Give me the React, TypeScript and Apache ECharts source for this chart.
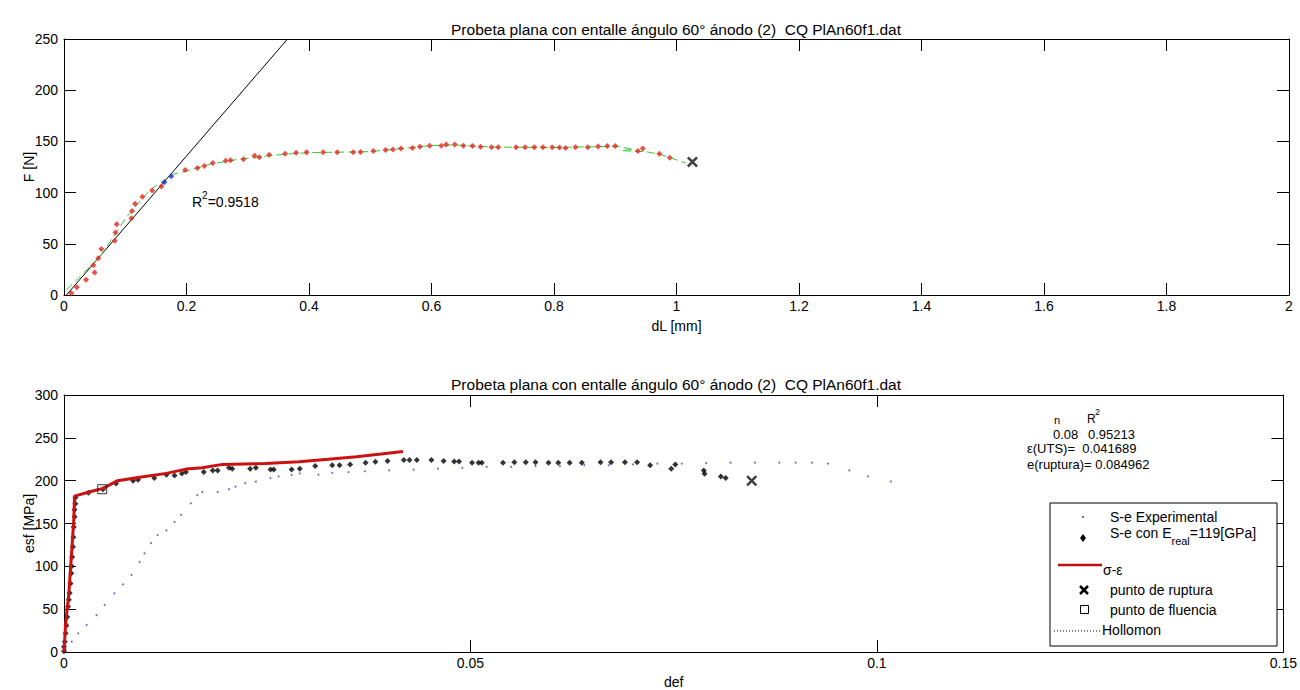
import React, { useEffect, useRef } from 'react';
import * as echarts from 'echarts';

// ---------- texts ----------
const plotTitle = 'Probeta plana con entalle ángulo 60° ánodo (2)  CQ PlAn60f1.dat';
const topXName = 'dL [mm]';
const topYName = 'F [N]';
const botXName = 'def';
const botYName = 'esf [MPa]';
const legendLabels = ['S-e Experimental', 'S-e con E', 'σ-ε', 'punto de ruptura', 'punto de fluencia', 'Hollomon'];

// ---------- top plot data: dL [mm] vs F [N] ----------
const topRedDL = [0.012, 0.021, 0.036, 0.048, 0.050, 0.056, 0.061, 0.083, 0.084, 0.086, 0.110, 0.111, 0.116, 0.128, 0.144, 0.159,
  0.198, 0.218, 0.229, 0.243, 0.264, 0.272, 0.293, 0.311, 0.319, 0.335, 0.361, 0.379, 0.396, 0.423, 0.446, 0.472, 0.484,
  0.505, 0.525, 0.537, 0.550, 0.569, 0.581, 0.597, 0.616, 0.624, 0.638, 0.652, 0.667, 0.680, 0.698, 0.709, 0.738, 0.753,
  0.768, 0.782, 0.797, 0.809, 0.819, 0.835, 0.855, 0.872, 0.887, 0.900, 0.937, 0.945, 0.972, 0.989];
const topRedF = [1.6, 7.5, 15, 29, 22, 36, 45, 53, 61, 69, 75, 82, 89, 96, 102, 106,
  122, 124, 126, 129, 131, 131.5, 132.5, 136, 134.5, 137, 138, 139, 139.3, 139.3, 139.3, 139.3, 139.6,
  140.6, 141.6, 142, 143, 143.5, 144.8, 145.8, 145.8, 147, 147, 145.8, 145.5, 144.8, 144.3, 144.3, 144.3, 144.3,
  144.3, 144.3, 144.3, 144, 143.5, 144.3, 144.3, 145, 145.5, 145.5, 140.6, 143, 138, 134];
const topBlueDL = [0.164, 0.175];
const topBlueF = [110, 116];
const topGreenDL = [0.004, 0.059, 0.102, 0.140, 0.178, 0.2, 0.24, 0.28, 0.32, 0.36, 0.4, 0.45, 0.5, 0.55, 0.6, 0.64,
  0.7, 0.8, 0.88, 0.905, 0.93, 0.91, 0.95, 0.975, 1.0, 1.015];
const topGreenF = [5, 37.5, 76, 102.5, 118, 121, 128, 132, 135, 137.5, 139, 139.5, 140, 143, 146, 146.5,
  144.5, 144, 145, 145, 142, 141, 140, 137, 132, 129];
const topFitDL = [0.004, 0.365];
const topFitF = [0, 250];
const topRupture = [1.026, 130];
const topR2 = '0.9518';

// ---------- bottom plot data: def vs esf [MPa] ----------
const expDef = [0.0002, 0.00094, 0.00175, 0.00277, 0.0040, 0.0050, 0.0062, 0.00725, 0.0083, 0.0093, 0.0099, 0.0107,
  0.0115, 0.0126, 0.0136, 0.0144, 0.0156, 0.0164, 0.0170, 0.0189, 0.0203, 0.0211, 0.0223, 0.0236, 0.0254, 0.0264,
  0.028, 0.029, 0.0313, 0.033, 0.035, 0.037, 0.040, 0.043, 0.046, 0.049, 0.052, 0.055, 0.058, 0.061, 0.064, 0.067,
  0.070, 0.073, 0.076, 0.079, 0.082, 0.085, 0.088, 0.090, 0.092, 0.094, 0.0966, 0.0989, 0.1017];
const expEsf = [3, 12, 21.8, 31.5, 43, 55, 68.5, 79, 90, 105, 115, 127,
  136.5, 142, 152, 160, 173.5, 183, 187, 187, 190, 193, 197, 199, 203, 205,
  206.5, 208.5, 207, 209, 210, 211, 212, 213, 214, 215, 216, 216, 217, 217, 218, 218,
  219, 220, 220, 220.5, 221, 221, 221, 221, 221, 220, 212, 205, 199];

const realDef = [0, 0, 0.0001, 0.0002, 0.0003, 0.0004, 0.0005, 0.0006, 0.0007, 0.0008, 0.0009, 0.00095, 0.001, 0.0011,
  0.00115, 0.0012, 0.0013, 0.0013, 0.0014, 0.0014,
  0.003, 0.0048, 0.0064, 0.0085, 0.0091, 0.0111, 0.0126, 0.0136, 0.0145, 0.015, 0.0172, 0.0183, 0.0189, 0.0203, 0.0207,
  0.0229, 0.0236, 0.0254, 0.0258, 0.028, 0.029, 0.0309, 0.033, 0.0339, 0.0352, 0.0371, 0.0383, 0.0398, 0.0418, 0.0425,
  0.0434, 0.0452, 0.0467, 0.048, 0.0486, 0.0502, 0.051, 0.0514, 0.054, 0.0554, 0.0568, 0.058, 0.0596, 0.0608, 0.0622,
  0.0637, 0.066, 0.0673, 0.069, 0.0705, 0.0721, 0.0747, 0.0752, 0.0787, 0.0788, 0.0808, 0.0814];
const realEsf = [1, 6, 12, 22, 31, 41, 53, 61, 69, 80, 92, 100, 111, 123,
  134, 146, 158, 166, 173, 180,
  186, 190, 196.6, 200, 201, 203, 207, 206, 208.5, 210, 210, 212, 212, 215, 214,
  214, 215, 213, 213, 213, 214, 217, 218, 218, 219, 221, 222, 223, 224, 224,
  224, 224, 223, 222.5, 222.5, 221, 221, 221, 221, 221.5, 221.5, 221.5, 221, 221, 221,
  221, 221.5, 221.5, 221.5, 221.5, 218, 214, 219, 212, 208, 205, 203];

const sigmaDef = [0, 0.0002, 0.0006, 0.0009, 0.0012, 0.0013, 0.0032, 0.0048, 0.0066, 0.0093, 0.0126, 0.015, 0.017,
  0.0195, 0.0248, 0.0289, 0.0325, 0.036, 0.039, 0.0417];
const sigmaEsf = [0, 33, 69, 111, 154, 182, 187, 191, 200, 204, 208.5, 213.5, 215,
  219, 220, 222, 225, 228, 231, 234];

const rupturePoint = [0.0846, 200];
const yieldPoint = [0.0047, 190];
const nValue = '0.08';
const r2Value = '0.95213';
const epsUTS = '0.041689';
const epsRupt = '0.084962';
const eReal = '119';

const zip = (a: number[], b: number[]) => a.map((v, i) => [v, b[i]]);

const FONT = '"Liberation Sans", Arial, sans-serif';
const XMARK = 'path://M0,1.6L1.6,0L5,3.4L8.4,0L10,1.6L6.6,5L10,8.4L8.4,10L5,6.6L1.6,10L0,8.4L3.4,5Z';

function valueAxis(gridIndex: number, position: string, min: number, max: number, interval: number, labels: boolean, extra: any = {}) {
  return {
    type: 'value', gridIndex, position, min, max, interval,
    nameMoveOverlap: false,
    axisLine: { show: true, onZero: false, lineStyle: { color: '#000', width: 1 } },
    axisTick: { show: true, inside: true, length: 12, lineStyle: { color: '#000', width: 1 } },
    splitLine: { show: false },
    axisLabel: labels ? { show: true, color: '#000', fontSize: 14, fontFamily: FONT, margin: position === 'left' ? 6 : 4 } : { show: false },
    ...extra,
  };
}

function buildOption() {
  const nameStyle = { color: '#000', fontSize: 14, fontFamily: FONT };
  const t = (text: string, x: number, y: number, extra: any = {}) => ({
    type: 'text', x, y, z: 100,
    style: { text, fill: '#000', fontSize: 14, fontFamily: FONT, align: 'left', verticalAlign: 'middle', textAlign: 'left', textVerticalAlign: 'middle', ...extra },
  });
  return {
    animation: false,
    backgroundColor: '#fff',
    textStyle: { fontFamily: FONT },
    grid: [
      { left: 64, top: 39, width: 1225, height: 256 },
      { left: 64, top: 395, width: 1225, height: 257 },
    ],
    xAxis: [
      valueAxis(0, 'bottom', 0, 2, 0.2, true, { name: topXName, nameLocation: 'middle', nameGap: 24, nameTextStyle: nameStyle }),
      valueAxis(0, 'top', 0, 2, 0.2, false),
      valueAxis(1, 'bottom', 0, 0.15, 0.05, true, { name: botXName, nameLocation: 'middle', nameGap: 23, nameTextStyle: nameStyle }),
      valueAxis(1, 'top', 0, 0.15, 0.05, false),
    ],
    yAxis: [
      valueAxis(0, 'left', 0, 250, 50, true, { name: topYName, nameLocation: 'middle', nameGap: 28, nameTextStyle: nameStyle }),
      valueAxis(0, 'right', 0, 250, 50, false),
      valueAxis(1, 'left', 0, 300, 50, true, { name: botYName, nameLocation: 'middle', nameGap: 28, nameTextStyle: nameStyle }),
      valueAxis(1, 'right', 0, 300, 50, false),
    ],
    series: [
      { type: 'line', xAxisIndex: 0, yAxisIndex: 0, data: zip(topFitDL, topFitF), symbol: 'none', lineStyle: { color: '#000', width: 1 }, z: 2 },
      { type: 'line', xAxisIndex: 0, yAxisIndex: 0, data: zip(topGreenDL, topGreenF), symbol: 'none', lineStyle: { color: '#33cc33', width: 1, type: [8, 4] }, z: 3 },
      { type: 'scatter', xAxisIndex: 0, yAxisIndex: 0, data: zip(topRedDL, topRedF), symbol: 'diamond', symbolSize: 6, itemStyle: { color: '#e3261c' }, z: 4 },
      { type: 'scatter', xAxisIndex: 0, yAxisIndex: 0, data: zip(topBlueDL, topBlueF), symbol: 'diamond', symbolSize: 6, itemStyle: { color: '#1f2fd0' }, z: 5 },
      { type: 'scatter', xAxisIndex: 0, yAxisIndex: 0, data: [topRupture], symbol: XMARK, symbolSize: 11, itemStyle: { color: '#111' }, z: 6 },

      { type: 'scatter', xAxisIndex: 2, yAxisIndex: 2, data: zip(expDef, expEsf), symbol: 'circle', symbolSize: 2, itemStyle: { color: '#4a4ab8' }, z: 2 },
      { type: 'scatter', xAxisIndex: 2, yAxisIndex: 2, data: zip(realDef, realEsf), symbol: 'diamond', symbolSize: 6, itemStyle: { color: '#000' }, z: 3 },
      { type: 'line', xAxisIndex: 2, yAxisIndex: 2, data: zip(sigmaDef, sigmaEsf), symbol: 'none', lineStyle: { color: '#cc1111', width: 3 }, z: 4 },
      { type: 'scatter', xAxisIndex: 2, yAxisIndex: 2, data: [rupturePoint], symbol: XMARK, symbolSize: 11, itemStyle: { color: '#111' }, z: 5 },
      { type: 'scatter', xAxisIndex: 2, yAxisIndex: 2, data: [yieldPoint], symbol: 'rect', symbolSize: 9, itemStyle: { color: 'rgba(0,0,0,0)', borderColor: '#000', borderWidth: 1 }, z: 6 },
    ],
    graphic: [
      t(plotTitle, 676, 29, { align: 'center', textAlign: 'center', fontSize: 15.5 }),
      t(plotTitle, 676, 384, { align: 'center', textAlign: 'center', fontSize: 15.5 }),
      {
        type: 'text', x: 192, y: 181, z: 100,
        style: {
          text: '{m|R}{s|2}{m|=' + topR2 + '}', fontFamily: FONT, fill: '#000', align: 'left', verticalAlign: 'top',
          rich: {
            m: { fontSize: 14, lineHeight: 16, verticalAlign: 'bottom', fontFamily: FONT, fill: '#000' },
            s: { fontSize: 10, lineHeight: 28, verticalAlign: 'middle', fontFamily: FONT, fill: '#000' },
          },
        },
      },
      // bottom annotations
      t('n', 1054, 420, { fontSize: 11 }),
      t(nValue, 1053, 434, { fontSize: 13 }),
      t('R', 1087, 419, { fontSize: 12 }),
      t('2', 1095, 412, { fontSize: 9 }),
      t(r2Value, 1088, 434, { fontSize: 13 }),
      t('ε(UTS)=  ' + epsUTS, 1027, 448, { fontSize: 13 }),
      t('e(ruptura)= ' + epsRupt, 1027, 464, { fontSize: 13 }),
      // legend
      { type: 'rect', z: 99, shape: { x: 1050, y: 503, width: 227, height: 143 }, style: { fill: '#fff', stroke: '#000', lineWidth: 1 } },
      { type: 'circle', z: 100, shape: { cx: 1083, cy: 517, r: 1 }, style: { fill: '#4a4ab8' } },
      t(legendLabels[0], 1110, 517),
      { type: 'polygon', z: 100, shape: { points: [[1083, 534], [1086, 538], [1083, 542], [1080, 538]] }, style: { fill: '#000' } },
      {
        type: 'text', x: 1110, y: 526, z: 100,
        style: {
          text: '{m|' + legendLabels[1] + '}{s|real}{m|=' + eReal + '[GPa]}', fontFamily: FONT, fill: '#000', align: 'left', verticalAlign: 'top',
          rich: {
            m: { fontSize: 14, lineHeight: 16, verticalAlign: 'top', fontFamily: FONT, fill: '#000' },
            s: { fontSize: 11, lineHeight: 30, verticalAlign: 'middle', fontFamily: FONT, fill: '#000' },
          },
        },
      },
      { type: 'line', z: 100, shape: { x1: 1058, y1: 565, x2: 1102, y2: 565 }, style: { stroke: '#c01010', lineWidth: 2.5 } },
      t(legendLabels[2], 1103, 570),
      { type: 'line', z: 100, shape: { x1: 1080, y1: 586, x2: 1088, y2: 594 }, style: { stroke: '#000', lineWidth: 2.5 } },
      { type: 'line', z: 100, shape: { x1: 1088, y1: 586, x2: 1080, y2: 594 }, style: { stroke: '#000', lineWidth: 2.5 } },
      t(legendLabels[3], 1110, 590),
      { type: 'rect', z: 100, shape: { x: 1080.5, y: 605.5, width: 8, height: 8 }, style: { fill: 'none', stroke: '#000', lineWidth: 1 } },
      t(legendLabels[4], 1110, 610),
      { type: 'line', z: 100, shape: { x1: 1054, y1: 631, x2: 1101, y2: 631 }, style: { stroke: '#000', lineWidth: 1, lineDash: [1, 2] } },
      t(legendLabels[5], 1102, 630),
    ],
  };
}

export default function App() {
  const ref = useRef<HTMLDivElement>(null);
  useEffect(() => {
    const chart = echarts.init(ref.current as HTMLDivElement, null, { renderer: 'svg' });
    chart.setOption(buildOption() as any);
    return () => chart.dispose();
  }, []);
  return <div ref={ref} style={{ position: 'fixed', left: 0, top: 0, width: 1300, height: 690, background: '#fff' }} />;
}
